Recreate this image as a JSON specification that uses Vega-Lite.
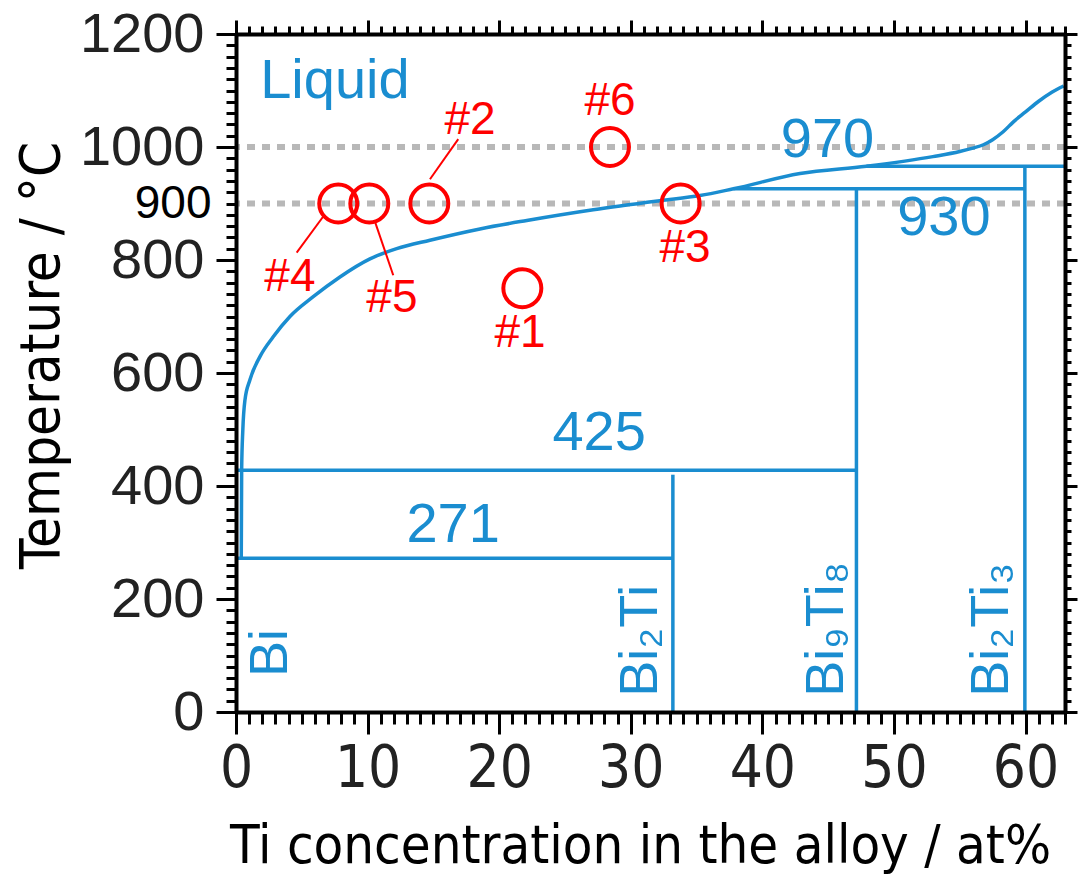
{
  "$schema": "https://vega.github.io/schema/vega-lite/v6.json",
  "width": 829,
  "height": 678,
  "autosize": {"type": "none"},
  "padding": {"left": 236, "top": 34, "right": 13, "bottom": 163},
  "background": "white",
  "config": {"view": {"stroke": null}, "axis": {"grid": false}},
  "datasets": {
    "liquidus": [
      {"x": 0.40, "y": 272}, {"x": 0.43, "y": 430}, {"x": 0.52, "y": 500}, {"x": 0.68, "y": 552},
      {"x": 1.06, "y": 588}, {"x": 1.82, "y": 629}, {"x": 2.83, "y": 664}, {"x": 4.1, "y": 700},
      {"x": 5.87, "y": 735}, {"x": 7.9, "y": 770}, {"x": 10.18, "y": 802}, {"x": 12.21, "y": 820},
      {"x": 14.74, "y": 835}, {"x": 18.54, "y": 855}, {"x": 22.1, "y": 870}, {"x": 27.15, "y": 889},
      {"x": 32.2, "y": 905}, {"x": 35.26, "y": 914}, {"x": 37.8, "y": 926}, {"x": 42.86, "y": 953},
      {"x": 47.9, "y": 966}, {"x": 52.96, "y": 983}, {"x": 55.0, "y": 992}, {"x": 56.0, "y": 998},
      {"x": 56.8, "y": 1004}, {"x": 57.5, "y": 1013}, {"x": 58.3, "y": 1027}, {"x": 59.1, "y": 1045},
      {"x": 60.0, "y": 1062}, {"x": 61.0, "y": 1081}, {"x": 62.0, "y": 1097}, {"x": 62.9, "y": 1108}
    ],
    "boundaries": [
      {"x": 0, "x2": 33.2, "y": 272, "y2": 272},
      {"x": 0, "x2": 47.2, "y": 428, "y2": 428},
      {"x": 33.2, "x2": 33.2, "y": 0, "y2": 420},
      {"x": 47.15, "x2": 47.15, "y": 0, "y2": 926},
      {"x": 37.8, "x2": 59.95, "y": 926, "y2": 926},
      {"x": 59.95, "x2": 59.95, "y": 0, "y2": 966},
      {"x": 47.9, "x2": 63, "y": 966, "y2": 966}
    ],
    "refs": [{"y": 900}, {"y": 1000}],
    "samples": [
      {"id": "#1", "x": 21.76, "y": 750, "lx": 21.58, "ly": 670},
      {"id": "#2", "x": 14.69, "y": 900, "lx": 17.78, "ly": 1048},
      {"id": "#3", "x": 33.79, "y": 900, "lx": 34.12, "ly": 821},
      {"id": "#4", "x": 7.77, "y": 900, "lx": 4.1, "ly": 770},
      {"id": "#5", "x": 10.13, "y": 900, "lx": 11.85, "ly": 733},
      {"id": "#6", "x": 28.42, "y": 1000, "lx": 28.42, "ly": 1082}
    ],
    "leaders": [
      {"x": 14.74, "y": 943, "x2": 16.89, "y2": 1014},
      {"x": 6.63, "y": 877, "x2": 4.61, "y2": 813},
      {"x": 10.56, "y": 868, "x2": 11.95, "y2": 773}
    ],
    "hlabels": [
      {"t": "Liquid", "x": 7.52, "y": 1087},
      {"t": "970", "x": 44.95, "y": 983},
      {"t": "930", "x": 53.8, "y": 844},
      {"t": "425", "x": 27.6, "y": 464},
      {"t": "271", "x": 16.5, "y": 301}
    ],
    "vlabels": [
      {"t": "Bi", "x": 3.85, "y": 62},
      {"t": "Bi₂Ti", "x": 31.97, "y": 27},
      {"t": "Bi₉Ti₈", "x": 46.1, "y": 27},
      {"t": "Bi₂Ti₃", "x": 58.7, "y": 27}
    ]
  },
  "resolve": {"axis": {"x": "independent", "y": "independent"}},
  "layer": [
    {
      "data": {"name": "refs"},
      "mark": {"type": "rule", "color": "#b8b8b8", "strokeWidth": 6, "strokeDash": [8, 7]},
      "encoding": {
        "y": {"field": "y", "type": "quantitative", "scale": {"domain": [0, 1200], "nice": false, "zero": false}, "axis": null}
      }
    },
    {
      "data": {"name": "boundaries"},
      "mark": {"type": "rule", "color": "#1a8dd0", "strokeWidth": 3.5},
      "encoding": {
        "x": {"field": "x", "type": "quantitative", "scale": {"domain": [0, 63], "nice": false, "zero": false},
          "axis": {"orient": "bottom", "values": [0, 10, 20, 30, 40, 50, 60], "tickSize": 22, "tickWidth": 3, "tickColor": "black",
            "domainWidth": 4, "domainColor": "black", "labelFont": "Liberation Sans Narrow, Arial Narrow, DejaVu Sans Condensed, sans-serif",
            "labelFontSize": 58, "labelColor": "#222222", "labelPadding": 6, "labelFlush": false, "labelOverlap": false, "labelBound": false,
            "title": "Ti concentration in the alloy / at%", "titleFont": "Liberation Sans Narrow, Arial Narrow, DejaVu Sans Condensed, sans-serif",
            "titleFontSize": 54, "titleFontWeight": "normal", "titleColor": "black", "titleX": 404, "titleY": 150, "titleBaseline": "alphabetic", "zindex": 2}},
        "x2": {"field": "x2"},
        "y": {"field": "y", "type": "quantitative", "scale": {"domain": [0, 1200], "nice": false, "zero": false},
          "axis": {"orient": "left", "values": [0, 200, 400, 600, 800, 1000, 1200], "format": "d", "tickSize": 20, "tickWidth": 3, "tickColor": "black",
            "domainWidth": 4, "domainColor": "black", "labelFont": "Liberation Sans, Arial, sans-serif", "labelFontSize": 56, "labelColor": "#222222",
            "labelPadding": 12, "labelOverlap": false, "labelFlush": false, "labelBound": false,
            "title": "Temperature / °C", "titleFont": "Liberation Sans Narrow, Arial Narrow, DejaVu Sans Condensed, sans-serif",
            "titleFontSize": 56, "titleFontWeight": "normal", "titleColor": "black", "titleAngle": -90, "titleX": -178, "titleY": 321,
            "titleBaseline": "alphabetic", "zindex": 2}},
        "y2": {"field": "y2"}
      }
    },
    {
      "data": {"name": "liquidus"},
      "mark": {"type": "line", "color": "#1a8dd0", "strokeWidth": 3.5, "interpolate": "monotone"},
      "encoding": {
        "x": {"field": "x", "type": "quantitative", "scale": {"domain": [0, 63], "nice": false, "zero": false},
          "axis": {"orient": "bottom", "values": [0,1,2,3,4,5,6,7,8,9,10,11,12,13,14,15,16,17,18,19,20,21,22,23,24,25,26,27,28,29,30,31,32,33,34,35,36,37,38,39,40,41,42,43,44,45,46,47,48,49,50,51,52,53,54,55,56,57,58,59,60,61,62,63],
            "tickSize": 12, "tickWidth": 3, "tickColor": "black", "domain": false, "labels": false, "title": null, "zindex": 2}},
        "y": {"field": "y", "type": "quantitative", "scale": {"domain": [0, 1200], "nice": false, "zero": false},
          "axis": {"orient": "left", "values": [0,20,40,60,80,100,120,140,160,180,200,220,240,260,280,300,320,340,360,380,400,420,440,460,480,500,520,540,560,580,600,620,640,660,680,700,720,740,760,780,800,820,840,860,880,900,920,940,960,980,1000,1020,1040,1060,1080,1100,1120,1140,1160,1180,1200],
            "tickSize": 10, "tickWidth": 3, "tickColor": "black", "domain": false,
            "labelExpr": "datum.value === 900 ? '900' : ''", "labelFont": "Liberation Sans, Arial, sans-serif", "labelFontSize": 46, "labelColor": "black",
            "labelPadding": 15, "labelOverlap": false, "labelFlush": false, "labelBound": false, "title": null, "zindex": 2}}
      }
    },
    {
      "data": {"name": "leaders"},
      "mark": {"type": "rule", "color": "#ff0000", "strokeWidth": 2},
      "encoding": {
        "x": {"field": "x", "type": "quantitative", "scale": {"domain": [0, 63], "nice": false, "zero": false}, "axis": null},
        "x2": {"field": "x2"},
        "y": {"field": "y", "type": "quantitative", "scale": {"domain": [0, 1200], "nice": false, "zero": false}, "axis": null},
        "y2": {"field": "y2"}
      }
    },
    {
      "data": {"name": "samples"},
      "mark": {"type": "point", "shape": "circle", "filled": false, "stroke": "#ff0000", "strokeWidth": 4, "size": 1444, "opacity": 1},
      "encoding": {
        "x": {"field": "x", "type": "quantitative", "scale": {"domain": [0, 63], "nice": false, "zero": false},
          "axis": {"orient": "top", "values": [0, 10, 20, 30, 40, 50, 60], "tickSize": 14, "tickWidth": 3, "tickColor": "black",
            "domainWidth": 4, "domainColor": "black", "labels": false, "title": null, "zindex": 2}},
        "y": {"field": "y", "type": "quantitative", "scale": {"domain": [0, 1200], "nice": false, "zero": false},
          "axis": {"orient": "right", "values": [0, 200, 400, 600, 800, 1000, 1200], "tickSize": 12, "tickWidth": 3, "tickColor": "black",
            "domainWidth": 4, "domainColor": "black", "labels": false, "title": null, "zindex": 2}}
      }
    },
    {
      "data": {"name": "samples"},
      "mark": {"type": "text", "color": "#ff0000", "font": "Liberation Sans, Arial, sans-serif", "fontSize": 46, "align": "center", "baseline": "middle"},
      "encoding": {
        "x": {"field": "lx", "type": "quantitative", "scale": {"domain": [0, 63], "nice": false, "zero": false},
          "axis": {"orient": "top", "values": [0,1,2,3,4,5,6,7,8,9,10,11,12,13,14,15,16,17,18,19,20,21,22,23,24,25,26,27,28,29,30,31,32,33,34,35,36,37,38,39,40,41,42,43,44,45,46,47,48,49,50,51,52,53,54,55,56,57,58,59,60,61,62,63],
            "tickSize": 8, "tickWidth": 3, "tickColor": "black", "domain": false, "labels": false, "title": null, "zindex": 2}},
        "y": {"field": "ly", "type": "quantitative", "scale": {"domain": [0, 1200], "nice": false, "zero": false},
          "axis": {"orient": "right", "values": [0,20,40,60,80,100,120,140,160,180,200,220,240,260,280,300,320,340,360,380,400,420,440,460,480,500,520,540,560,580,600,620,640,660,680,700,720,740,760,780,800,820,840,860,880,900,920,940,960,980,1000,1020,1040,1060,1080,1100,1120,1140,1160,1180,1200],
            "tickSize": 6, "tickWidth": 3, "tickColor": "black", "domain": false, "labels": false, "title": null, "zindex": 2}},
        "text": {"field": "id"}
      }
    },
    {
      "data": {"name": "hlabels"},
      "mark": {"type": "text", "color": "#1a8dd0", "font": "Liberation Sans, Arial, sans-serif", "fontSize": 56, "align": "center", "baseline": "alphabetic"},
      "encoding": {
        "x": {"field": "x", "type": "quantitative", "scale": {"domain": [0, 63], "nice": false, "zero": false}, "axis": null},
        "y": {"field": "y", "type": "quantitative", "scale": {"domain": [0, 1200], "nice": false, "zero": false}, "axis": null},
        "text": {"field": "t"}
      }
    },
    {
      "data": {"name": "vlabels"},
      "mark": {"type": "text", "color": "#1a8dd0", "font": "Liberation Sans, Arial, sans-serif", "fontSize": 54, "angle": 270, "align": "left", "baseline": "alphabetic"},
      "encoding": {
        "x": {"field": "x", "type": "quantitative", "scale": {"domain": [0, 63], "nice": false, "zero": false}, "axis": null},
        "y": {"field": "y", "type": "quantitative", "scale": {"domain": [0, 1200], "nice": false, "zero": false}, "axis": null},
        "text": {"field": "t"}
      }
    }
  ]
}
